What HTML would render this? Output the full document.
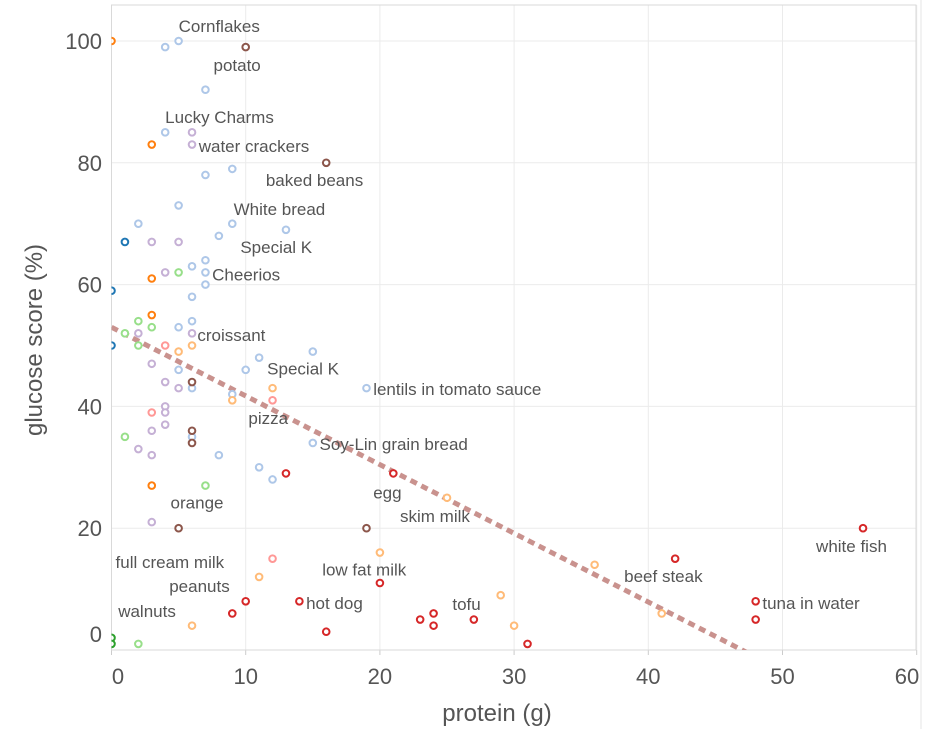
<!DOCTYPE html>
<html><head><meta charset="utf-8"><style>
html,body{margin:0;padding:0;background:#fff;}
svg{display:block;font-family:"Liberation Sans",sans-serif;}
</style></head><body>
<svg id="chart" width="926" height="729"></svg>
<script>
const colors = {lb:'#aec7e8',pu:'#c5b0d5',or:'#ff7f0e',br:'#8c564b',bl:'#1f77b4',lg:'#98df8a',dg:'#2ca02c',pk:'#ff9896',lo:'#ffbb78',rd:'#d62728'};
const seriesKeys = ['lb','pu','or','br','bl','lg','dg','pk','lo','rd'];
const protein = {
 lb:[4,5,7,4,7,9,5,2,9,13,8,7,6,7,7,6,6,5,5,6,9,10,11,15,6,15,8,11,12,19],
 pu:[6,6,3,5,4,2,6,3,4,5,4,4,3,4,2,3,3],
 or:[0,3,3,3,3],
 br:[10,16,6,6,6,5,19],
 bl:[1,0,0],
 lg:[5,2,3,1,2,1,7,2],
 dg:[0,0],
 pk:[4,3,12,12],
 lo:[5,6,9,12,11,6,20,25,29,30,36,41],
 rd:[13,9,10,14,16,20,21,23,24,24,27,31,42,48,48,56]
};
const glucose = {
 lb:[99,100,92,85,78,79,73,70,70,69,68,64,63,62,60,58,54,53,46,43,42,46,48,49,35,34,32,30,28,43],
 pu:[85,83,67,67,62,52,52,47,44,43,40,39,36,37,33,32,21],
 or:[100,83,61,55,27],
 br:[99,80,44,36,34,20,20],
 bl:[67,59,50],
 lg:[62,54,53,52,50,35,27,1],
 dg:[2,1],
 pk:[50,39,41,15],
 lo:[49,50,41,43,12,4,16,25,9,4,14,6],
 rd:[29,6,8,8,3,11,29,5,6,4,5,1,15,8,5,20]
};
const labelNames = ['Cornflakes','potato','Lucky Charms','water crackers','baked beans','White bread','Special K','Cheerios','croissant','Special K','lentils in tomato sauce','pizza','Soy-Lin grain bread','egg','skim milk','orange','full cream milk','low fat milk','beef steak','white fish','peanuts','hot dog','tofu','tuna in water','walnuts'];
const labelX = [5,7.6,4,6.5,11.5,9.1,9.6,7.5,6.4,11.6,19.5,10.2,15.5,19.5,21.5,4.4,0.3,15.7,38.2,52.5,4.3,14.5,25.4,48.5,0.5];
const labelY = [101.5,95.1,86.5,81.8,76.2,71.4,65.2,60.7,50.7,45.2,41.9,37.1,32.8,24.9,21,23.2,13.5,12.2,11.2,16.1,9.5,6.7,6.6,6.7,5.4];
const xTicks = [0,10,20,30,40,50,60];
const yTicks = [0,20,40,60,80,100];
const trendIntercept = 53, trendSlope = -1.128;

const X0=111.5, XS=13.42, Y0=650, YS=6.09;
const L=111.5, R=916, T=5, B=650;
const sx = v => X0 + v*XS;
const sy = v => Y0 - v*YS;
const NS='http://www.w3.org/2000/svg';
const svg=document.getElementById('chart');
function mk(tag, attrs, parent){const e=document.createElementNS(NS,tag);for(const k in attrs)e.setAttribute(k,attrs[k]);(parent||svg).appendChild(e);return e;}

const grid=mk('g',{});


xTicks.forEach(t=>{
  const l=mk('line',{x1:sx(t),x2:sx(t),y1:T,y2:B,stroke:'#ebebeb','stroke-width':1},grid);
  
  
  const tk=mk('line',{x1:sx(t),x2:sx(t),y1:B,y2:B+5,stroke:'#ccc','stroke-width':1},grid);
  
  
});
yTicks.forEach(t=>{
  const l=mk('line',{x1:L,x2:R,y1:sy(t),y2:sy(t),stroke:'#ebebeb','stroke-width':1},grid);
  
  
});
const frame=mk('rect',{x:L,y:T,width:R-L,height:B-T,fill:'none',stroke:'#d9d9d9','stroke-width':1});


const edge=mk('line',{x1:921,x2:921,y1:0,y2:729,stroke:'#e6e6e6','stroke-width':1});



xTicks.forEach(t=>{
  const x = t===0 ? 118 : (t===60 ? 907 : sx(t));
  const e=mk('text',{x:x,y:684,'text-anchor':'middle','font-size':22,fill:'#555'});
  e.textContent=t;
  
  
});
yTicks.forEach(t=>{
  const y = t===0 ? 642 : sy(t)+8;
  const e=mk('text',{x:102,y:y,'text-anchor':'end','font-size':22,fill:'#555'});
  e.textContent=t;
  
  
});
const xt=mk('text',{x:497,y:721,'text-anchor':'middle','font-size':24,fill:'#555'});
xt.textContent='protein (g)';


const yt=mk('text',{x:0,y:0,'text-anchor':'middle','font-size':24,fill:'#555',transform:'translate(42,340) rotate(-90)'});
yt.textContent='glucose score (%)';



mk('clipPath',{id:'pc'}).appendChild(document.createElementNS(NS,'rect'));
const cr=document.querySelector('#pc rect');cr.setAttribute('x',L);cr.setAttribute('y',T);cr.setAttribute('width',R-L);cr.setAttribute('height',B-T);

const xEnd = -trendIntercept/trendSlope + 0.3;
const tl=mk('line',{x1:sx(0),y1:sy(trendIntercept),x2:sx(xEnd),y2:sy(trendIntercept+trendSlope*xEnd),stroke:'#c9928e','stroke-width':5,'stroke-dasharray':'7 5','clip-path':'url(#pc)'});



const pts=mk('g',{'clip-path':'url(#pc)'});


seriesKeys.forEach(k=>{
  protein[k].forEach((p,i)=>{
    const c=mk('circle',{cx:sx(p),cy:sy(glucose[k][i]),r:3.3,fill:'#fff',stroke:colors[k],'stroke-width':2},pts);
    
    
  });
});

labelNames.forEach((n,i)=>{
  const e=mk('text',{x:sx(labelX[i]),y:sy(labelY[i]),'font-size':17,fill:'#555'});
  e.textContent=n;
  
  
});
</script>
</body></html>
